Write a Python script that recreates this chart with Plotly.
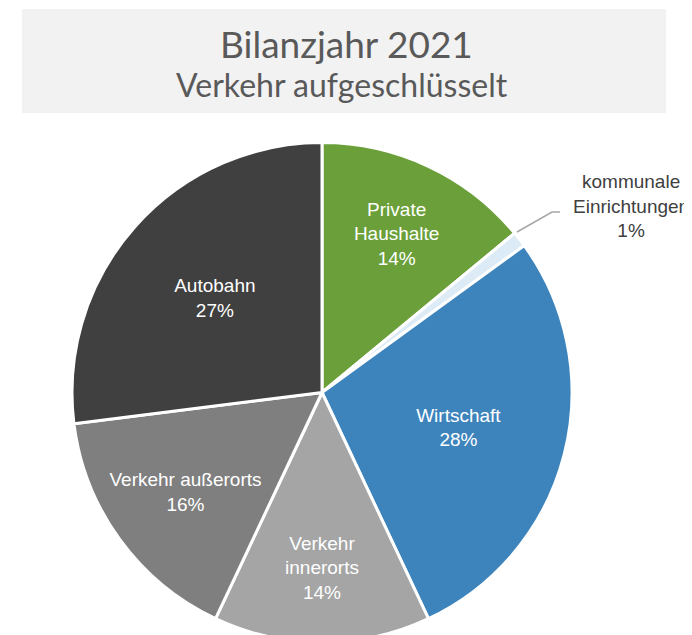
import plotly.graph_objects as go

# Data
categories = ["Private Haushalte", "kommunale Einrichtungen", "Wirtschaft",
              "Verkehr innerorts", "Verkehr außerorts", "Autobahn"]
display_labels = ["Private<br>Haushalte", "kommunale<br>Einrichtungen", "Wirtschaft",
                  "Verkehr<br>innerorts", "Verkehr außerorts", "Autobahn"]
values = [14, 1, 28, 14, 16, 27]
colors = ["#6A9F39", "#DDEBF7", "#3D84BC", "#A5A5A5", "#7F7F7F", "#404040"]

W, H = 692, 635
OFF = 8  # page body margin offset

def px(x):
    return (x - OFF) / W

def py(y):
    return 1 - (y - OFF) / H

texts = [("" if v < 5 else f"{lab}<br>{v / sum(values):.0%}") for lab, v in zip(display_labels, values)]

fig = go.Figure()
fig.add_trace(go.Pie(
    labels=categories,
    values=values,
    text=texts,
    textinfo="text",
    textposition="inside",
    insidetextorientation="horizontal",
    sort=False,
    direction="clockwise",
    rotation=0,
    marker=dict(colors=colors, line=dict(color="#FFFFFF", width=3)),
    textfont=dict(family="Liberation Sans, Arial, sans-serif", size=19, color="#FFFFFF"),
    domain=dict(x=[px(72), px(572)], y=[0, py(142)]),
    showlegend=False,
    hoverinfo="label+percent",
))

# small slice outside label
small_idx = 1
fig.add_annotation(
    x=px(631), y=py(206), xref="paper", yref="paper",
    text=f"{display_labels[small_idx]}<br>{values[small_idx] / sum(values):.0%}",
    showarrow=False, xanchor="center", yanchor="middle",
    font=dict(family="Liberation Sans, Arial, sans-serif", size=19, color="#404040"),
)
fig.add_shape(type="path", xref="paper", yref="paper",
              path=f"M {px(560)} {py(212)} L {px(552)} {py(212)} L {px(517)} {py(232)}",
              line=dict(color="#A6A6A6", width=1.5))

# Title box
fig.add_shape(type="rect", xref="paper", yref="paper",
              x0=px(22), x1=px(666), y0=py(113), y1=py(9),
              fillcolor="#F2F2F2", line=dict(width=0), layer="below")
fig.add_annotation(x=px(346), y=py(43), xref="paper", yref="paper",
                   text="Bilanzjahr 2021", showarrow=False,
                   xanchor="center", yanchor="middle",
                   font=dict(family="Lato, sans-serif", size=37, color="#595959"))
fig.add_annotation(x=px(342), y=py(85), xref="paper", yref="paper",
                   text="Verkehr aufgeschlüsselt", showarrow=False,
                   xanchor="center", yanchor="middle",
                   font=dict(family="Lato, sans-serif", size=32, color="#595959"))

fig.update_layout(
    width=W, height=H,
    margin=dict(l=0, r=0, t=0, b=0),
    paper_bgcolor="#FFFFFF",
    plot_bgcolor="#FFFFFF",
)

fig.write_html("out.html")
